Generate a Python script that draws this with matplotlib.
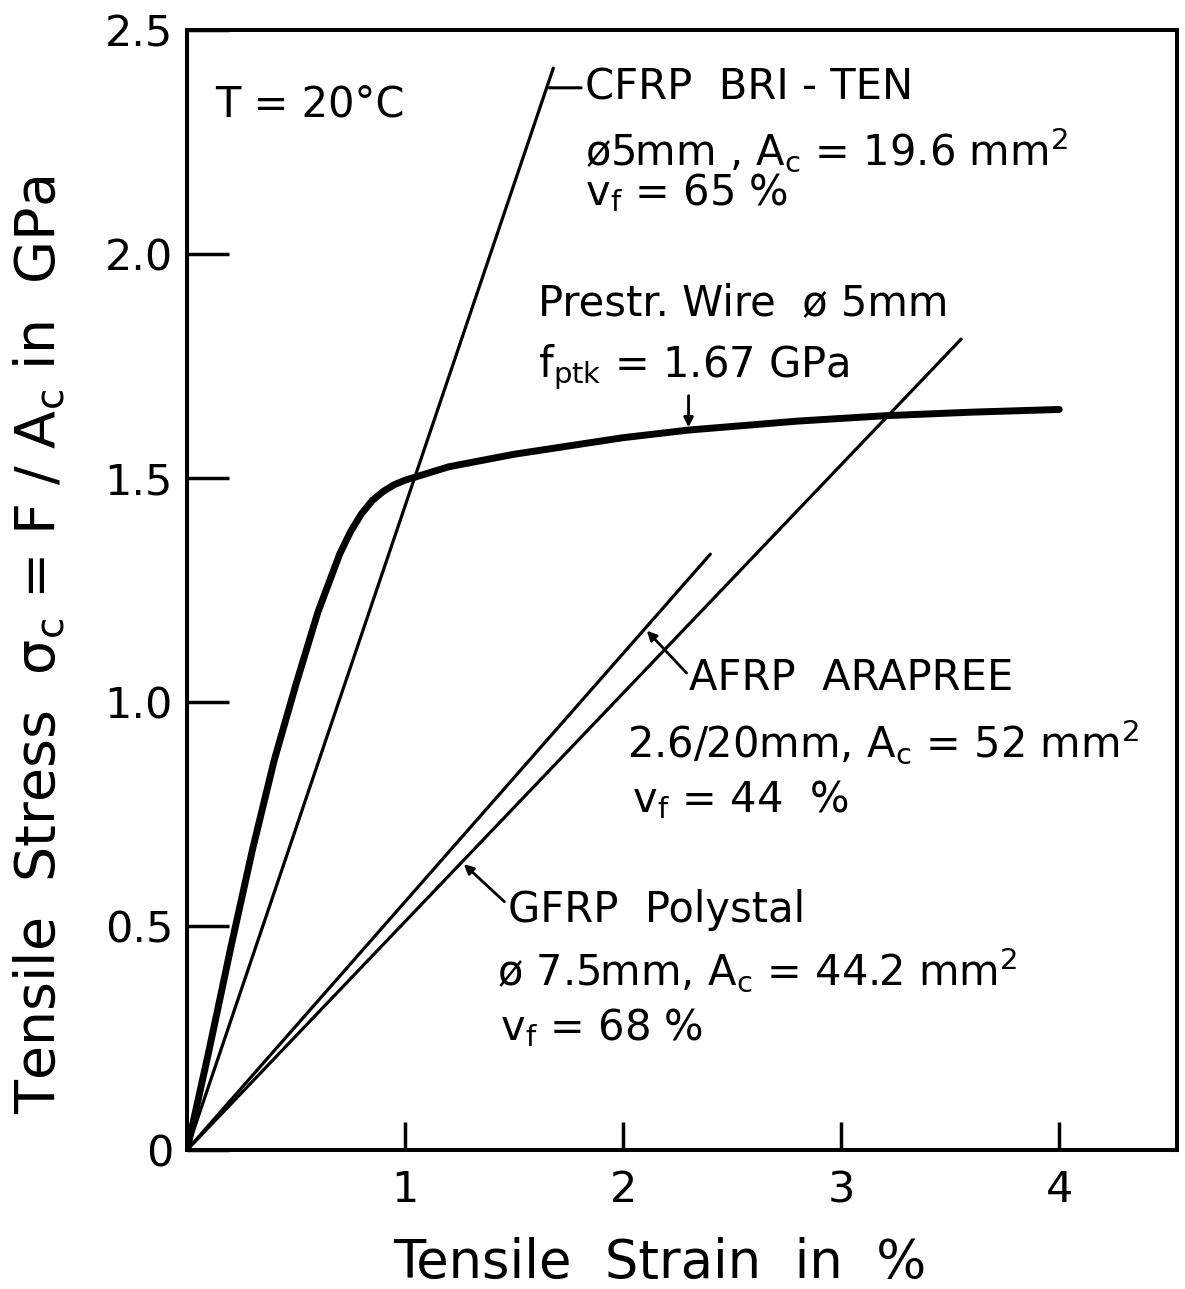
import numpy as np
import matplotlib
matplotlib.use("Agg")
import matplotlib.pyplot as plt

plt.rcParams['font.family'] = ['DejaVu Sans']
plt.rcParams['mathtext.default'] = 'regular'

# ---- data (strain in %, stress in GPa) ----
cfrp_strain = [0.0, 1.68]
cfrp_stress = [0.0, 2.415]

wire_strain = [0.0, 0.1, 0.2, 0.3, 0.4, 0.5, 0.6, 0.7, 0.75, 0.8, 0.85, 0.9, 0.95, 1.0, 1.2, 1.5, 2.0, 2.3, 2.8, 3.2, 3.6, 4.0]
wire_stress = [0.0, 0.22, 0.45, 0.67, 0.87, 1.04, 1.20, 1.33, 1.38, 1.42, 1.45, 1.47, 1.485, 1.495, 1.525, 1.553, 1.59, 1.607, 1.627, 1.639, 1.647, 1.653]

afrp_strain = [0.0, 2.40]
afrp_stress = [0.0, 1.33]

gfrp_strain = [0.0, 3.55]
gfrp_stress = [0.0, 1.81]

xticks = [1, 2, 3, 4]
xtick_labels = ['1', '2', '3', '4']
yticks = [0, 0.5, 1.0, 1.5, 2.0, 2.5]
ytick_labels = ['0', '0.5', '1.0', '1.5', '2.0', '2.5']

W, H = 1185, 1289
fig = plt.figure(figsize=(W / 100, H / 100), dpi=100)
L, R, B, T = 187, 1177, 1150, 30
ax = fig.add_axes([L / W, 1 - B / H, (R - L) / W, (B - T) / H])
ax.set_xlim(0, 4.54)
ax.set_ylim(0, 2.5)

for s in ax.spines.values():
    s.set_linewidth(2.9)

thin = 2.3
ax.plot(cfrp_strain, cfrp_stress, color='black', lw=thin, solid_capstyle='round')
ax.plot(afrp_strain, afrp_stress, color='black', lw=thin, solid_capstyle='round')
ax.plot(gfrp_strain, gfrp_stress, color='black', lw=thin, solid_capstyle='round')
ax.plot(wire_strain, wire_stress, color='black', lw=5.0, solid_capstyle='round',
        solid_joinstyle='round')

ax.set_xticks(xticks)
ax.set_xticklabels(xtick_labels)
ax.set_yticks(yticks)
ax.set_yticklabels(ytick_labels)
ax.tick_params(axis='both', direction='in', width=2.5, labelsize=31)
ax.tick_params(axis='y', length=30, pad=10)
ax.tick_params(axis='x', length=20, pad=14)

ax.set_xlabel('Tensile  Strain  in  %', fontsize=38)
ax.xaxis.set_label_coords(0.478, -0.078)
ax.set_ylabel(r'Tensile  Stress  $\sigma_c$ = F / A$_c$ in  GPa', fontsize=40)
ax.yaxis.set_label_coords(-0.122, 0.451)

fs = 30
ax.text(0.128, 2.333, 'T = 20°C', fontsize=fs, va='center', ha='left')

# CFRP
ax.text(1.823, 2.371, 'CFRP  BRI - TEN', fontsize=fs, va='center', ha='left')
ax.text(1.823, 2.232, r'ø5mm , A$_c$ = 19.6 mm$^2$', fontsize=fs, va='center', ha='left')
ax.text(1.823, 2.136, r'v$_f$ = 65 %', fontsize=fs, va='center', ha='left')
ax.annotate('', xy=(2.371 / (cfrp_stress[1] / cfrp_strain[1]), 2.371), xytext=(1.82, 2.371),
            arrowprops=dict(arrowstyle='-', color='black', lw=2.2))

# Prestressing wire
ax.text(1.608, 1.891, 'Prestr. Wire  ø 5mm', fontsize=fs, va='center', ha='left')
ax.text(1.608, 1.748, r'f$_{ptk}$ = 1.67 GPa', fontsize=fs, va='center', ha='left')
ax.annotate('', xy=(2.3, 1.607), xytext=(2.3, 1.69),
            arrowprops=dict(arrowstyle='-|>', color='black', lw=2, mutation_scale=14))

# AFRP
ax.text(2.304, 1.054, 'AFRP  ARAPREE', fontsize=fs, va='center', ha='left')
ax.text(2.020, 0.911, r'2.6/20mm, A$_c$ = 52 mm$^2$', fontsize=fs, va='center', ha='left')
ax.text(2.043, 0.781, r'v$_f$ = 44  %', fontsize=fs, va='center', ha='left')
ax.annotate('', xy=(2.10, 2.10 * afrp_stress[1] / afrp_strain[1]), xytext=(2.30, 1.06),
            arrowprops=dict(arrowstyle='-|>', color='black', lw=2, mutation_scale=14))

# GFRP
ax.text(1.470, 0.536, 'GFRP  Polystal', fontsize=fs, va='center', ha='left')
ax.text(1.420, 0.402, r'ø 7.5mm, A$_c$ = 44.2 mm$^2$', fontsize=fs, va='center', ha='left')
ax.text(1.434, 0.272, r'v$_f$ = 68 %', fontsize=fs, va='center', ha='left')
ax.annotate('', xy=(1.26, 1.26 * gfrp_stress[1] / gfrp_strain[1]), xytext=(1.465, 0.55),
            arrowprops=dict(arrowstyle='-|>', color='black', lw=2, mutation_scale=14))

fig.savefig('out.png', dpi=100)
